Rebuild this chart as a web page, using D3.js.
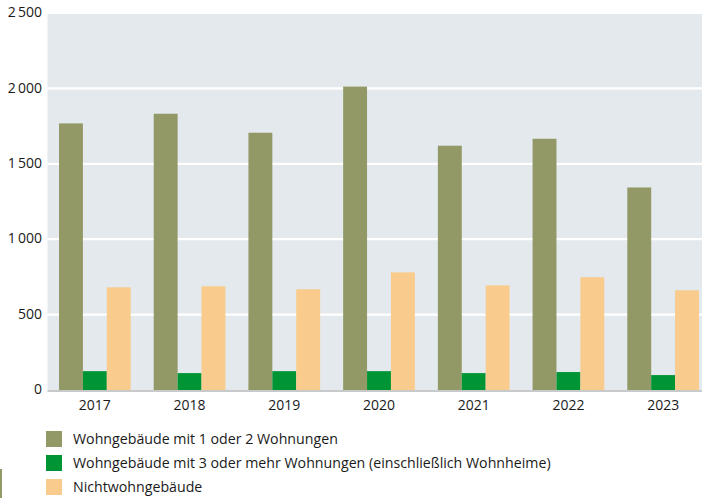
<!DOCTYPE html>
<html>
<head>
<meta charset="utf-8">
<title>Baugenehmigungen</title>
<script src="https://cdn.jsdelivr.net/npm/d3@7"></script>
<style>
  body { margin: 0; background: #fff; }
  svg { display: block; }
  text { font-family: "Open Sans", sans-serif; fill: #1a1a1a; }
</style>
</head>
<body>
<div id="chart"></div>
<script>
var years = ['2017', '2018', '2019', '2020', '2021', '2022', '2023'];
var seriesNames = [
  'Wohngebäude mit 1 oder 2 Wohnungen',
  'Wohngebäude mit 3 oder mehr Wohnungen (einschließlich Wohnheime)',
  'Nichtwohngebäude'
];
var einZwei = [1768, 1832, 1706, 2012, 1620, 1666, 1343];
var dreiMehr = [125, 112, 125, 125, 112, 119, 99];
var nichtWohn = [681, 688, 668, 780, 694, 748, 661];
var yTicks = [0, 500, 1000, 1500, 2000, 2500];
var colors = ['#939966', '#009534', '#f9cb8c'];

var W = 702, H = 498;
var plotLeft = 47.5, plotRight = 710.5, plotTop = 14, plotBottom = 390;

var svg = d3.select('#chart').append('svg')
  .attr('width', W).attr('height', H);

var x = d3.scaleBand().domain(years).range([plotLeft, plotRight]).paddingInner(0.243).paddingOuter(0.1215);
var xs = d3.scaleBand().domain([0, 1, 2]).range([0, x.bandwidth()]);
var y = d3.scaleLinear().domain([0, 2500]).range([plotBottom, 13]);

// background
svg.append('rect')
  .attr('x', plotLeft).attr('y', plotTop)
  .attr('width', plotRight - plotLeft).attr('height', plotBottom - plotTop)
  .attr('fill', '#e4e9ed');

// grid
svg.selectAll('line.grid')
  .data(yTicks.filter(function(d){ return d > 0 && d < 2500; }))
  .enter().append('line')
    .attr('class', 'grid')
    .attr('x1', plotLeft).attr('x2', plotRight)
    .attr('y1', function(d){ return y(d); })
    .attr('y2', function(d){ return y(d); })
    .attr('stroke', '#fff').attr('stroke-width', 2.2);

// y labels
svg.selectAll('text.ytick')
  .data(yTicks).enter().append('text')
    .attr('class', 'ytick')
    .attr('x', 42)
    .attr('y', function(d){ return y(d); })
    .attr('dy', '0.3em')
    .attr('text-anchor', 'end')
    .style('font-size', '14px')
    .text(function(d){ return d3.format(',')(d).replace(',', '\u2009'); });

// bars
var data = years.map(function(yr, i){
  return { year: yr, values: [einZwei[i], dreiMehr[i], nichtWohn[i]] };
});

var groups = svg.selectAll('g.year')
  .data(data).enter().append('g')
    .attr('class', 'year')
    .attr('transform', function(d){ return 'translate(' + x(d.year) + ',0)'; });

groups.selectAll('rect')
  .data(function(d){ return d.values; })
  .enter().append('rect')
    .attr('x', function(d, i){ return xs(i); })
    .attr('width', xs.bandwidth())
    .attr('y', function(d){ return y(d); })
    .attr('height', function(d){ return y(0) - y(d); })
    .attr('fill', function(d, i){ return colors[i]; });

// x axis line
svg.append('line')
  .attr('x1', plotLeft).attr('x2', plotRight)
  .attr('y1', plotBottom + 1).attr('y2', plotBottom + 1)
  .attr('stroke', '#c8c9cb').attr('stroke-width', 2);

svg.selectAll('text.xtick')
  .data(years).enter().append('text')
    .attr('class', 'xtick')
    .attr('x', function(d){ return x(d) + x.bandwidth() / 2; })
    .attr('y', 410)
    .attr('text-anchor', 'middle')
    .style('font-size', '14px')
    .text(function(d){ return d; });

// legend
var legend = svg.selectAll('g.legend')
  .data(seriesNames).enter().append('g')
    .attr('class', 'legend')
    .attr('transform', function(d, i){ return 'translate(46,' + (431 + i * 24) + ')'; });

legend.append('rect')
  .attr('width', 16).attr('height', 16)
  .attr('fill', function(d, i){ return colors[i]; });

legend.append('text')
  .attr('x', 27).attr('y', 8)
  .attr('dy', '0.35em')
  .style('font-size', '14.2px')
  .text(function(d){ return d; });

// stray edge mark at lower left
svg.append('rect')
  .attr('x', 0).attr('y', 469).attr('width', 2).attr('height', 29)
  .attr('fill', colors[0]);
</script>
</body>
</html>
